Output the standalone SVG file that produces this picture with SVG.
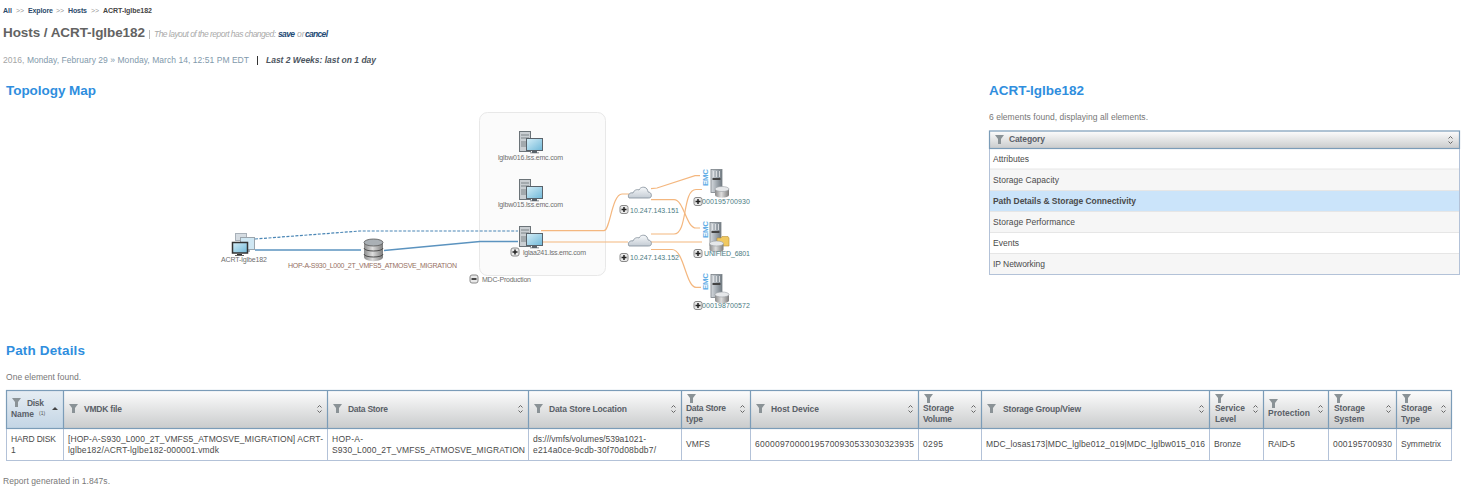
<svg xmlns="http://www.w3.org/2000/svg" width="1465" height="493" viewBox="0 0 1465 493">
<style>
text{font-family:"Liberation Sans",Arial,sans-serif;font-size:8.5px;fill:#555}
.crumb{font-size:7px;font-weight:bold;fill:#2c4a6b}
.sep{font-size:7px;fill:#999}
.h2{font-size:13.5px;font-weight:bold;fill:#2f8ede}
.note{font-size:8.5px;fill:#777}
.th{font-size:8.5px;font-weight:bold;fill:#5a6068}
.td{font-size:8.5px;fill:#4a4a4a}
.cat{font-size:8.5px;fill:#4a4a4a}
.lbl{font-size:7px;fill:#6e6e6e}
.tl{font-size:7px;fill:#4c7b82}
.emc{font-size:8px;font-weight:bold;fill:#63aee6}
.grid{fill:none;stroke:#b3c2d8;stroke-width:1}
.gridh{fill:none;stroke:#7b9cb8;stroke-width:1.2}
.org{fill:none;stroke:#f4b77f;stroke-width:1.2}
.blue{fill:none;stroke:#5b93bf;stroke-width:1.5}
</style>
<defs>
<linearGradient id="hd" x1="0" y1="0" x2="0" y2="1"><stop offset="0" stop-color="#fdfdfd"/><stop offset="1" stop-color="#c9cbcc"/></linearGradient>
<linearGradient id="hs" x1="0" y1="0" x2="0" y2="1"><stop offset="0" stop-color="#e6edf3"/><stop offset="1" stop-color="#c3d5e5"/></linearGradient>
<linearGradient id="scr" x1="0" y1="0" x2="1" y2="1"><stop offset="0" stop-color="#d5eef8"/><stop offset="1" stop-color="#6fb8d8"/></linearGradient>
<linearGradient id="cyl" x1="0" y1="0" x2="1" y2="0"><stop offset="0" stop-color="#8a8a8a"/><stop offset=".45" stop-color="#ddd"/><stop offset="1" stop-color="#7c7c7c"/></linearGradient>
<linearGradient id="rack" x1="0" y1="0" x2="1" y2="0"><stop offset="0" stop-color="#d6dade"/><stop offset=".5" stop-color="#a3abb2"/><stop offset="1" stop-color="#727b83"/></linearGradient>
<linearGradient id="cld" x1="0" y1="0" x2="0" y2="1"><stop offset="0" stop-color="#f6f8fa"/><stop offset="1" stop-color="#c4ccd4"/></linearGradient>
<path id="fn" d="M0 0h9l-3 4v5h-3v-5z" fill="#8a9296"/>
<g id="sort" fill="none" stroke="#666" stroke-width="1"><path d="M-2 -1.5 0 -3.5 2 -1.5M-2 1.5 0 3.5 2 1.5"/></g>
<g id="host">
<rect x="0.5" y="0.5" width="11" height="20" fill="#c9ced2" stroke="#6b7378"/>
<path d="M2 4h8M2 7h8M2 11h5M2 13h5M2 15h5" stroke="#7c8488"/>
<rect x="7.5" y="7.5" width="16" height="12" fill="url(#scr)" stroke="#59626a"/>
<path d="M13 20h5v1.5h2v.7h-9v-.7h2z" fill="#59626a"/>
</g>
<g id="ex"><rect x="-4" y="-4" width="8" height="8" rx="2" fill="#e9e9e9" stroke="#8a8a8a"/><path d="M-2.500 0h5M0 -2.500v5" stroke="#222" stroke-width="1.500"/></g>
<g id="cloud"><path d="M1 12c-2-3 1-6 4-5 1-3 4-4 6-3 1-3 6-4 8-1 1 2 1 3 1 3 3 0 4 3 3 5-1 1-2 1-3 1H4c-1 0-2 0-3 0z" fill="url(#cld)" stroke="#7f8b97" stroke-width=".8"/></g>
<g id="rackI">
<rect x="0.5" y="0.5" width="11" height="23" fill="url(#rack)" stroke="#7a8288" stroke-width=".8"/>
<path d="M2 9h8v2H2z" fill="#444"/>
<path d="M3 2v6M6 2v6M9 2v6" stroke="#e8eaec" stroke-width=".8"/>
</g>
<g id="disk"><path d="M0 2.5v6c0 3.5 14 3.5 14 0v-6z" fill="url(#cyl)"/><ellipse cx="7" cy="2.5" rx="7" ry="2.5" fill="#e6e8ea" stroke="#9a9fa4" stroke-width=".6"/></g>
</defs>

<rect width="1465" height="493" fill="#fff"/>

<g id="page-header">
<text class="crumb" x="3" y="13">All</text><text class="sep" x="16" y="12.5">&gt;&gt;</text>
<text class="crumb" x="28" y="13" textLength="25">Explore</text><text class="sep" x="56" y="12.5">&gt;&gt;</text>
<text class="crumb" x="68" y="13" textLength="19">Hosts</text><text class="sep" x="91" y="12.5">&gt;&gt;</text>
<text class="crumb" x="103" y="13" textLength="49" style="fill:#444">ACRT-lglbe182</text>
<text x="3" y="37" textLength="142" style="font-size:13.5px;font-weight:bold;fill:#636363">Hosts / ACRT-lglbe182</text>
<rect x="149" y="30" width="1" height="9" fill="#bbb"/>
<text x="154" y="37" textLength="122" style="font-size:8.5px;font-style:italic;fill:#aaa">The layout of the report has changed:</text>
<text x="278" y="37" textLength="17" style="font-size:8.5px;font-weight:bold;font-style:italic;fill:#234a75">save</text>
<text x="297" y="37" style="font-size:8.5px;font-style:italic;fill:#aaa">or</text>
<text x="305" y="37" textLength="23" style="font-size:8.5px;font-weight:bold;font-style:italic;fill:#234a75">cancel</text>
<text x="3" y="63" textLength="246" style="font-size:8.5px;fill:#8199ab"><tspan style="fill:#a5a5a5">2016,</tspan> Monday, February 29 » Monday, March 14, 12:51 PM EDT</text>
<rect x="257" y="56" width="1" height="9" fill="#333"/>
<text x="266" y="63" textLength="110" style="font-size:8.5px;font-weight:bold;font-style:italic;fill:#4c5560">Last 2 Weeks: last on 1 day</text>
<text class="h2" x="6" y="95" textLength="90">Topology Map</text>
</g>

<g id="group-box"><rect x="479.500" y="112.500" width="126" height="163" rx="8" fill="#fbfbfb" stroke="#e8e8e8"/></g>

<g id="connectors">
<path d="M255 239 360 231H518" fill="none" stroke="#4a86b5" stroke-width="1.200" stroke-dasharray="3 1.500"/>
<path class="blue" d="M255 250H361"/>
<path class="blue" d="M384 250.500 480 241.500H518"/>
<path class="org" d="M541 230.700H604C610 230.700 612 194 622 194H629"/>
<path class="org" d="M541 242H628M651 242H702"/>
<path class="org" d="M651 188.700 657 188 695 175.700H700"/>
<path class="org" d="M651 199.700H674C684 199.700 686 228 696 228H700"/>
<path class="org" d="M651 234H674C688 234 682 189.500 696 189.500H702"/>
<path class="org" d="M651 249.500H672C684 249.500 686 287.300 696 287.300H701"/>
</g>

<g id="node-acrt">
<rect x="235.500" y="233.500" width="11" height="7" fill="#d5dce2" stroke="#a8b0b8"/>
<rect x="240.500" y="237.500" width="14" height="12" fill="#cfe7f3" stroke="#9aa4ac"/>
<path d="M245 250h5v2h-5z" fill="#a8b0b8"/>
<rect x="232.500" y="242.500" width="15" height="10.500" fill="url(#scr)" stroke="#333" stroke-width="1.5"/>
<path d="M237 254h5v1h2v.8h-9v-.8h2z" fill="#333"/>
<text class="lbl" x="221" y="262" textLength="46">ACRT-lglbe182</text>
</g>
<g id="node-datastore">
<path d="M364 243v14c0 5.500 19 5.500 19 0v-14z" fill="url(#cyl)"/>
<ellipse cx="373.500" cy="242.500" rx="9.500" ry="3.500" fill="#aab0b5" stroke="#555" stroke-width=".8"/>
<path d="M364 248c0 4 19 4 19 0M364 254c0 4 19 4 19 0" fill="none" stroke="#4d4d4d"/>
<text class="lbl" x="288" y="268" textLength="169" style="fill:#96705f">HOP-A-S930_L000_2T_VMFS5_ATMOSVE_MIGRATION</text>
</g>
<g id="node-host-016"><use href="#host" x="519" y="131"/><text class="lbl" x="498" y="160" textLength="65">lglbw016.lss.emc.com</text></g>
<g id="node-host-015"><use href="#host" x="519" y="179"/><text class="lbl" x="498" y="207" textLength="65">lglbw015.lss.emc.com</text></g>
<g id="node-host-241"><use href="#host" x="519" y="226"/><use href="#ex" x="515" y="252"/><text class="lbl" x="523" y="255" textLength="63">lglaa241.lss.emc.com</text></g>
<g id="node-mdc"><rect x="470" y="275" width="8" height="8" rx="2" fill="#e9e9e9" stroke="#8a8a8a"/><rect x="471.500" y="278.200" width="5" height="1.600" fill="#222"/><text class="lbl" x="482" y="282" textLength="49">MDC-Production</text></g>
<g id="node-cloud-151"><use href="#cloud" x="628" y="186"/><use href="#ex" x="624" y="209.500"/><text class="tl" x="630" y="213" textLength="49">10.247.143.151</text></g>
<g id="node-cloud-152"><use href="#cloud" x="628" y="234"/><use href="#ex" x="624" y="257.500"/><text class="tl" x="630" y="260" textLength="49">10.247.143.152</text></g>
<g id="node-st-930"><text class="emc" transform="translate(708,186) rotate(-90)" textLength="17">EMC</text><use href="#rackI" x="710.500" y="169"/><use href="#disk" x="715" y="186.500"/><use href="#ex" x="698" y="201.500"/><text class="tl" x="702" y="204" textLength="48">000195700930</text></g>
<g id="node-st-6801"><text class="emc" transform="translate(708,238) rotate(-90)" textLength="17">EMC</text><use href="#rackI" x="709.500" y="222"/><path d="M717 238h4l1-1.500h6l1 1.500v8h-12z" fill="#f0c860" stroke="#b8923a" stroke-width=".6"/><use href="#disk" x="709.500" y="241"/><use href="#ex" x="698" y="253.500"/><text class="tl" x="704" y="256" textLength="46">UNIFIED_6801</text></g>
<g id="node-st-572"><text class="emc" transform="translate(708,290) rotate(-90)" textLength="17">EMC</text><use href="#rackI" x="710.500" y="274"/><use href="#disk" x="715" y="292"/><use href="#ex" x="698" y="305.500"/><text class="tl" x="702" y="308" textLength="48">000198700572</text></g>

<g id="category-panel">
<text class="h2" x="989" y="95" textLength="95">ACRT-lglbe182</text>
<text class="note" x="989" y="120" textLength="159">6 elements found, displaying all elements.</text>
<rect x="989.500" y="131" width="470" height="17.500" fill="url(#hd)"/>
<rect x="990" y="169" width="469" height="21.500" fill="#f6f6f6"/>
<rect x="990" y="190.500" width="469" height="21" fill="#cbe4fa"/>
<rect x="990" y="211.500" width="469" height="21" fill="#f6f6f6"/>
<rect x="990" y="253.500" width="469" height="21" fill="#f6f6f6"/>
<path d="M990 169H1459M990 190.500H1459M990 211.500H1459M990 232.500H1459M990 253.500H1459" stroke="#e6e6e6"/>
<rect class="grid" x="989.500" y="148.500" width="470" height="126"/>
<rect class="gridh" x="989.500" y="131" width="470" height="17.500"/>
<use href="#fn" x="995" y="135"/>
<text class="th" x="1009" y="142" textLength="36">Category</text>
<use href="#sort" x="1450.500" y="140"/>
<text class="cat" x="993" y="162" textLength="36">Attributes</text>
<text class="cat" x="993" y="183" textLength="66">Storage Capacity</text>
<text class="cat" x="993" y="204" textLength="143" style="font-weight:bold">Path Details &amp; Storage Connectivity</text>
<text class="cat" x="993" y="225" textLength="82">Storage Performance</text>
<text class="cat" x="993" y="246" textLength="26">Events</text>
<text class="cat" x="993" y="267" textLength="52">IP Networking</text>
</g>

<g id="path-details">
<text class="h2" x="6" y="355" textLength="79">Path Details</text>
<text class="note" x="6" y="380" textLength="75">One element found.</text>
<rect x="6.500" y="390.500" width="1445" height="38" fill="url(#hd)"/>
<rect x="6.500" y="390.500" width="57" height="38" fill="url(#hs)"/>
<rect class="grid" x="6.500" y="428.500" width="1445" height="32"/>
<path class="grid" d="M63.500 428V460M327.500 428V460M528.500 428V460M681.500 428V460M750.500 428V460M918.500 428V460M981.500 428V460M1209.500 428V460M1263.500 428V460M1328.500 428V460M1396.500 428V460"/>
<rect class="gridh" x="6.500" y="390.500" width="1445" height="38"/>
<path class="gridh" d="M63.500 390V428M327.500 390V428M528.500 390V428M681.500 390V428M750.500 390V428M918.500 390V428M981.500 390V428M1209.500 390V428M1263.500 390V428M1328.500 390V428M1396.500 390V428"/>

<use href="#fn" x="12" y="398"/><text class="th" x="27" y="406" textLength="17">Disk</text><text class="th" x="11" y="417" textLength="23">Name</text><text x="39" y="415" style="font-size:5px;fill:#555">(1)</text><path d="M52 410h6l-3-3z" fill="#444"/>
<use href="#fn" x="69" y="404"/><text class="th" x="84" y="412" textLength="38">VMDK file</text><use href="#sort" x="319.500" y="409"/>
<use href="#fn" x="333" y="404"/><text class="th" x="348" y="412" textLength="40">Data Store</text><use href="#sort" x="520.500" y="409"/>
<use href="#fn" x="534" y="404"/><text class="th" x="549" y="412" textLength="78">Data Store Location</text><use href="#sort" x="673.500" y="409"/>
<use href="#fn" x="687" y="394"/><text class="th" x="686" y="411" textLength="40">Data Store</text><text class="th" x="686" y="422" textLength="17">type</text><use href="#sort" x="742.500" y="409"/>
<use href="#fn" x="756" y="404"/><text class="th" x="771" y="412" textLength="48">Host Device</text><use href="#sort" x="910.500" y="409"/>
<use href="#fn" x="924" y="394"/><text class="th" x="923" y="411" textLength="31">Storage</text><text class="th" x="923" y="422" textLength="29">Volume</text><use href="#sort" x="973.500" y="409"/>
<use href="#fn" x="987" y="404"/><text class="th" x="1003" y="412" textLength="78">Storage Group/View</text><use href="#sort" x="1201.500" y="409"/>
<use href="#fn" x="1215" y="394"/><text class="th" x="1215" y="411" textLength="30">Service</text><text class="th" x="1215" y="422" textLength="21">Level</text><use href="#sort" x="1255.500" y="409"/>
<use href="#fn" x="1269" y="399"/><text class="th" x="1268" y="416" textLength="42">Protection</text><use href="#sort" x="1320.500" y="409"/>
<use href="#fn" x="1334" y="394"/><text class="th" x="1334" y="411" textLength="31">Storage</text><text class="th" x="1334" y="422" textLength="30">System</text><use href="#sort" x="1388.500" y="409"/>
<use href="#fn" x="1402" y="394"/><text class="th" x="1401" y="411" textLength="31">Storage</text><text class="th" x="1401" y="422" textLength="19">Type</text><use href="#sort" x="1443.500" y="409"/>

<text class="td" x="11" y="442" textLength="45">HARD DISK</text><text class="td" x="11" y="453">1</text>
<text class="td" x="68" y="442" textLength="255">[HOP-A-S930_L000_2T_VMFS5_ATMOSVE_MIGRATION] ACRT-</text>
<text class="td" x="68" y="453" textLength="151">lglbe182/ACRT-lglbe182-000001.vmdk</text>
<text class="td" x="332" y="442" textLength="31">HOP-A-</text>
<text class="td" x="332" y="453" textLength="193">S930_L000_2T_VMFS5_ATMOSVE_MIGRATION</text>
<text class="td" x="533" y="442" textLength="113">ds:///vmfs/volumes/539a1021-</text>
<text class="td" x="533" y="453" textLength="123">e214a0ce-9cdb-30f70d08bdb7/</text>
<text class="td" x="686" y="447" textLength="24">VMFS</text>
<text class="td" x="755" y="447" textLength="159">60000970000195700930533030323935</text>
<text class="td" x="923" y="447" textLength="20">0295</text>
<text class="td" x="986" y="447" textLength="219">MDC_losas173|MDC_lglbe012_019|MDC_lglbw015_016</text>
<text class="td" x="1214" y="447" textLength="27">Bronze</text>
<text class="td" x="1268" y="447" textLength="27">RAID-5</text>
<text class="td" x="1333" y="447" textLength="59">000195700930</text>
<text class="td" x="1401" y="447" textLength="40">Symmetrix</text>
<text class="note" x="3" y="484" textLength="107">Report generated in 1.847s.</text>
</g>
</svg>
